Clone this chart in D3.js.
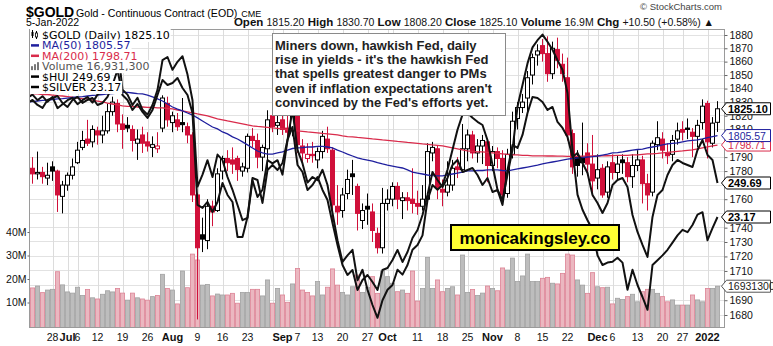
<!DOCTYPE html>
<html><head><meta charset="utf-8">
<script src="https://cdn.jsdelivr.net/npm/d3@7"></script>
<style>
body{margin:0;background:#fff;}
svg{display:block;font-family:"Liberation Sans",Arial,sans-serif;}
</style></head><body>
<svg id="c" width="773" height="346"></svg>
<script>
const dates = [
"2021-06-21","2021-06-22","2021-06-23","2021-06-24","2021-06-25",
"2021-06-28","2021-06-29","2021-06-30","2021-07-01","2021-07-02",
"2021-07-06","2021-07-07","2021-07-08","2021-07-09",
"2021-07-12","2021-07-13","2021-07-14","2021-07-15","2021-07-16",
"2021-07-19","2021-07-20","2021-07-21","2021-07-22","2021-07-23",
"2021-07-26","2021-07-27","2021-07-28","2021-07-29","2021-07-30",
"2021-08-02","2021-08-03","2021-08-04","2021-08-05","2021-08-06",
"2021-08-09","2021-08-10","2021-08-11","2021-08-12","2021-08-13",
"2021-08-16","2021-08-17","2021-08-18","2021-08-19","2021-08-20",
"2021-08-23","2021-08-24","2021-08-25","2021-08-26","2021-08-27",
"2021-08-30","2021-08-31","2021-09-01","2021-09-02","2021-09-03",
"2021-09-07","2021-09-08","2021-09-09","2021-09-10",
"2021-09-13","2021-09-14","2021-09-15","2021-09-16","2021-09-17",
"2021-09-20","2021-09-21","2021-09-22","2021-09-23","2021-09-24",
"2021-09-27","2021-09-28","2021-09-29","2021-09-30","2021-10-01",
"2021-10-04","2021-10-05","2021-10-06","2021-10-07","2021-10-08",
"2021-10-11","2021-10-12","2021-10-13","2021-10-14","2021-10-15",
"2021-10-18","2021-10-19","2021-10-20","2021-10-21","2021-10-22",
"2021-10-25","2021-10-26","2021-10-27","2021-10-28","2021-10-29",
"2021-11-01","2021-11-02","2021-11-03","2021-11-04","2021-11-05",
"2021-11-08","2021-11-09","2021-11-10","2021-11-11","2021-11-12",
"2021-11-15","2021-11-16","2021-11-17","2021-11-18","2021-11-19",
"2021-11-22","2021-11-23","2021-11-24","2021-11-26",
"2021-11-29","2021-11-30","2021-12-01","2021-12-02","2021-12-03",
"2021-12-06","2021-12-07","2021-12-08","2021-12-09","2021-12-10",
"2021-12-13","2021-12-14","2021-12-15","2021-12-16","2021-12-17",
"2021-12-20","2021-12-21","2021-12-22","2021-12-23",
"2021-12-27","2021-12-28","2021-12-29","2021-12-30","2021-12-31",
"2022-01-03","2022-01-04","2022-01-05"];

const openP = [1769,1782,1778,1779,1775, 1783,1780,1762,1770,1777, 1786,1797,1803,1801, 1809,1806,1809,1823,1829, 1814,1813,1810,1800,1806, 1801,1797,1796,1811,1829,
1815,1817,1815,1812,1806, 1763,1735,1731,1755,1752, 1780,1789,1788,1789,1780, 1782,1805,1802,1790,1796, 1820,1813,1817,1811,1809, 1826,1798,1789,1792,
1788,1794,1803,1795,1755, 1752,1764,1778,1769,1745, 1755,1751,1736,1726,1757, 1760,1769,1759,1761,1760, 1757,1755,1760,1793,1796, 1767,1765,1770,1783,1781,
1796,1806,1793,1798,1801, 1784,1794,1789,1764,1792, 1818,1826,1833,1850,1865, 1872,1866,1851,1869,1858, 1848,1807,1790,1790, 1793,1785,1775,1782,1765,
1786,1779,1788,1786,1776, 1784,1788,1771,1765,1799, 1803,1793,1792,1803, 1810,1811,1808,1805,1815, 1829,1800,1815.2];
const highP = [1788,1790,1794,1783,1786, 1787,1781,1773,1779,1789, 1801,1809,1817,1813, 1812,1820,1829,1834,1832, 1821,1819,1813,1810,1812, 1808,1805,1808,1835,1834,
1823,1822,1833,1815,1808, 1764,1747,1760,1759,1782, 1791,1795,1797,1791,1786, 1807,1811,1807,1799,1824, 1823,1820,1822,1820,1837, 1829,1803,1800,1801,
1797,1809,1812,1797,1770, 1768,1781,1788,1771,1757, 1764,1757,1740,1768,1767, 1772,1772,1765,1765,1782, 1766,1770,1800,1801,1798, 1774,1787,1788,1790,1814,
1810,1809,1803,1806,1803, 1798,1797,1795,1796,1823, 1830,1836,1853,1866,1873, 1877,1879,1875,1878,1866, 1863,1810,1795,1815, 1800,1806,1792,1785,1787,
1792,1791,1792,1790,1792, 1795,1791,1778,1802,1816, 1808,1800,1806,1815, 1816,1818,1811,1817,1832, 1831,1819,1830.7];
const lowP = [1765,1771,1774,1771,1770, 1773,1751,1750,1766,1774, 1785,1795,1798,1797, 1799,1800,1807,1820,1808, 1796,1808,1794,1788,1793, 1794,1790,1793,1808,1812,
1808,1809,1808,1800,1758, 1677,1723,1725,1741,1751, 1774,1780,1778,1773,1776, 1779,1797,1782,1780,1781, 1808,1806,1806,1803,1805, 1793,1784,1786,1786,
1782,1789,1793,1745,1742, 1747,1760,1763,1738,1739, 1742,1730,1722,1722,1752, 1755,1753,1746,1752,1750, 1749,1752,1757,1787,1760, 1755,1762,1766,1775,1780,
1787,1789,1786,1785,1772, 1780,1782,1758,1761,1789, 1810,1822,1820,1843,1857, 1860,1845,1847,1855,1845, 1802,1778,1776,1777, 1777,1762,1767,1761,1761,
1774,1774,1778,1772,1768, 1780,1757,1752,1762,1795, 1789,1785,1787,1799, 1802,1803,1790,1797,1810, 1789,1797,1808.2];
const closeP = [1782,1778,1779,1776,1777, 1780,1763,1770,1777,1783, 1795,1802,1800,1810, 1806,1809,1823,1830,1814, 1810,1811,1802,1803,1800, 1798,1799,1798,1833,1817,
1820,1812,1813.5,1806,1763, 1726,1732,1755,1751,1778, 1789,1786,1785,1781,1783, 1805,1802,1790,1797,1817, 1812,1815,1810,1808,1826, 1799,1793,1792,1791,
1794,1805,1796,1756,1751, 1763,1774,1776,1750,1752, 1753,1738,1726,1757,1760, 1769,1760,1761,1759,1757, 1755,1760,1794,1797,1768, 1765,1770,1782,1781,1796,
1806,1793,1798,1802,1784, 1794,1789,1763,1792,1816, 1826,1830,1848,1863,1868, 1866,1851,1870,1861,1851, 1806,1783,1784,1786, 1785,1773,1781,1763,1783,
1779,1785,1786,1776,1784, 1788,1771,1763,1800,1804, 1795,1791,1802,1809, 1808,1810,1805,1813,1827, 1801,1814.6,1825.1];
const prevClose = 1769;

const volumeM = [18.3,16.2,17.0,14.2,15.3, 15.6,23.1,17.5,14.5,14.0, 16.5,13.0,15.5,12.0, 11.5,13.5,15.0,14.5,16.0, 14.0,11.0,14.0,12.0,11.5, 11.0,12.5,13.0,22.0,16.0,
15.3,9.4,23.4,16.3,30.6, 28.1,17.4,17.7,12.8,13.6, 13.2,13.2,13.9,9.7,14.3, 14.3,15.6,15.6,12.8,19.6, 9.7,16.0,13.2,10.1,17.9, 24.5,15.3,14.3,12.8,
18.9,13.2,16.5,24.3,17.4, 14.3,13.2,16.7,21.7,14.3, 16.5,21.0,13.9,23.4,21.0, 18.2,14.6,15.3,13.9,23.4, 10.6,16.0,29.2,16.0,19.6, 14.6,16.0,16.7,13.2,30.2,
14.3,15.5,13.0,14.0,17.0, 16.0,15.0,24.7,23.8,28.9, 18.9,21.3,30.6,18.9,18.9, 20.3,20.7,18.2,17.9,22.4, 30.6,30.2,19.6,17.4, 13.9,22.7,16.7,16.3,16.5,
9.4,11.8,11.3,12.5,13.5, 10.3,14.6,15.6,15.6,13.9, 12.5,10.3,11.1,8.9, 8.9,8.9,13.2,11.1,10.3, 16.0,16.0,16.9313];

const ma50 = [1830.1,1830.4,1830.8,1831.2,1831.5, 1831.9,1832.3,1832.6,1833.0,1833.4, 1833.8,1834.1,1834.5,1834.9, 1835.2,1835.6,1836.0,1836.3,1836.7, 1837.1,1837.1,1836.7,1836.3,1836.0, 1835.2,1833.8,1832.3,1830.8,1828.6,
1826.4,1824.9,1823.5,1822.0,1820.5, 1818.4,1816.2,1814.0,1811.8,1810.4, 1808.2,1806.8,1804.6,1803.1,1801.0, 1798.8,1796.6,1794.4,1793.0,1792.2, 1792.2,1793.0,1793.7,1795.1,1796.2, 1796.6,1796.9,1797.3,1797.3,
1797.7,1797.7,1797.3,1796.6,1795.1, 1793.7,1792.2,1790.8,1789.4,1788.6, 1787.9,1787.2,1786.1,1785.1,1784.3, 1783.6,1782.9,1782.2,1780.8,1779.3, 1778.6,1777.9,1777.2,1776.8,1776.5, 1776.5,1777.2,1777.9,1778.6,1779.3,
1780.1,1780.1,1780.4,1780.4,1780.8, 1780.8,1780.8,1780.4,1780.1,1780.8, 1781.5,1782.2,1782.9,1783.6,1784.3, 1785.1,1785.8,1786.5,1787.2,1787.9, 1788.6,1789.0,1789.4,1789.7, 1790.1,1790.4,1790.8,1791.5,1792.2,
1793.0,1793.3,1793.7,1794.4,1795.1, 1795.5,1795.8,1796.6,1797.3,1798.0, 1798.8,1799.5,1799.9,1800.2, 1801.0,1801.7,1802.1,1802.4,1803.1, 1804.0,1804.8,1805.57];

const ma200 = [1836.3,1836.0,1836.0,1835.6,1835.6, 1835.2,1834.8,1834.5,1834.1,1833.7, 1833.0,1832.6,1832.3,1831.5, 1830.8,1830.1,1829.3,1828.6,1827.9, 1827.2,1826.8,1826.8,1826.4,1826.4, 1826.1,1826.1,1825.7,1825.7,1825.3,
1825.0,1824.2,1823.5,1822.8,1822.1, 1821.3,1820.6,1819.9,1818.8,1817.7, 1817.0,1816.2,1815.5,1814.8,1814.1, 1813.3,1812.6,1812.2,1811.9,1811.5, 1811.1,1810.8,1810.4,1809.7,1809.3, 1809.0,1808.6,1808.2,1807.9,
1807.5,1807.1,1806.8,1806.4,1806.0, 1805.3,1804.8,1804.6,1804.2,1803.9, 1803.5,1803.1,1802.8,1802.4,1802.1, 1801.7,1801.3,1801.0,1800.6,1800.3, 1799.9,1799.5,1799.2,1798.8,1798.5, 1798.1,1797.4,1796.7,1796.0,1795.2,
1794.5,1794.2,1793.8,1793.8,1793.4, 1793.1,1792.7,1792.4,1792.0,1791.6, 1791.6,1791.3,1791.3,1790.9,1790.9, 1790.9,1790.8,1790.8,1790.7,1790.7, 1790.6,1790.6,1790.6,1790.7, 1790.7,1790.8,1790.8,1790.9,1791.0,
1791.1,1791.2,1791.3,1791.3,1791.6, 1791.6,1792.0,1792.4,1792.4,1792.7, 1793.1,1793.4,1793.8,1794.2, 1794.5,1794.9,1795.2,1796.0,1796.7, 1797.4,1798.1,1798.71];

const hui = [281.7,282.9,280.9,279.7,282.9, 283.7,284.5,281.7,280.1,282.9, 284.1,281.7,282.9,283.7, 280.9,281.7,284.1,288.9,294.9, 284.9,282.9,278.9,281.3,278.1, 275.7,278.9,284.9,290.9,288.9,
289.7,291.7,287.7,284.9,277.7, 240.9,239.7,242.1,238.1,242.1, 249.7,244.9,242.1,228.1,228.1, 236.1,251.7,250.9,241.7,254.9, 256.9,254.9,257.7,266.9,272.1, 256.9,254.1,246.9,248.9,
252.1,246.9,242.9,233.7,224.9, 216.9,212.9,214.9,206.9,210.9, 212.9,210.1,206.9,214.9,215.7, 218.9,222.9,218.1,222.1,227.7, 230.9,236.9,244.9,254.1,250.9, 248.1,251.7,256.9,258.9,254.1,
254.9,255.7,252.9,248.9,251.7, 246.1,246.9,240.9,254.9,264.9, 263.7,268.9,277.7,284.1,283.7, 282.1,278.9,280.1,274.1,271.7, 268.1,260.1,261.7,257.7, 253.7,244.9,241.7,237.7,241.7,
248.9,250.9,251.7,248.1,236.9, 230.1,224.9,220.1,236.1,244.9, 246.9,252.9,256.9,258.9, 257.7,256.9,256.1,262.9,266.9, 260.9,258.9,249.69];

const silver = [24.66,24.70,24.63,24.68,24.61, 24.67,24.53,24.58,24.63,24.66, 24.58,24.63,24.67,24.60, 24.70,24.73,25.13,25.41,25.32, 24.76,24.70,24.57,24.66,24.51, 24.45,24.57,24.76,25.13,25.17,
25.01,25.11,25.18,24.95,24.63, 23.55,23.70,23.88,23.67,23.95, 23.88,23.67,23.51,23.32,23.13, 23.16,23.63,23.42,23.51,23.88, 23.84,23.88,23.70,24.13,24.51, 24.01,23.84,23.60,23.67,
23.63,23.76,23.57,23.22,22.88, 22.61,22.69,22.76,22.38,22.51, 22.26,22.07,21.91,22.13,22.26, 22.32,22.51,22.45,22.57,22.76, 22.82,22.94,23.38,23.57,23.51, 23.57,23.76,24.01,24.26,24.45,
24.47,24.41,24.36,24.32,24.13, 23.82,23.51,23.38,23.70,24.01, 24.55,24.82,25.09,25.29,25.38, 25.45,25.36,25.26,25.13,25.01, 24.72,24.01,23.45,23.26, 23.13,23.01,22.69,22.57,22.60,
22.61,22.66,22.60,22.26,22.51, 22.32,22.17,22.01,22.57,22.63, 22.69,22.76,22.85,22.94, 23.01,22.98,23.07,23.20,23.23, 22.88,23.03,23.17];

const priceTicks = [1680,1690,1700,1710,1720,1730,1740,1750,1760,1770,1780,1790,1800,1810,1820,1830,1840,1850,1860,1870,1880];
const volTicks = [10,20,30,40];
const tickDates = ["2021-06-28","2021-07-01","2021-07-06","2021-07-12","2021-07-19","2021-07-26","2021-08-02","2021-08-09","2021-08-16","2021-08-23","2021-09-01","2021-09-07","2021-09-13","2021-09-20","2021-09-27","2021-10-01","2021-10-11","2021-10-18","2021-10-25","2021-11-01","2021-11-08","2021-11-15","2021-11-22","2021-12-01","2021-12-06","2021-12-13","2021-12-20","2021-12-27","2022-01-03"];
const tickLabels = ["28","Jul","6","12","19","26","Aug","9","16","23","Sep","7","13","20","27","Oct","11","18","25","Nov","8","15","22","Dec","6","13","20","27","2022"];
const gridDates = ["2021-06-21","2021-06-28","2021-07-01","2021-07-06","2021-07-12","2021-07-19","2021-07-26","2021-08-02","2021-08-09","2021-08-16","2021-08-23","2021-08-30","2021-09-01","2021-09-07","2021-09-13","2021-09-20","2021-09-27","2021-10-01","2021-10-04","2021-10-11","2021-10-18","2021-10-25","2021-11-01","2021-11-08","2021-11-15","2021-11-22","2021-11-29","2021-12-01","2021-12-06","2021-12-13","2021-12-20","2021-12-27","2022-01-03"];
const noteLines = ["Miners down, hawkish Fed, daily","rise in yields - it's the hawkish Fed","that spells greatest danger to PMs","even if inflation expectations aren't","convinced by the Fed's efforts yet."];
const siteText = "monicakingsley.co";

const RED="#d0103a", NAVY="#1f1f9e", MA200C="#d92b4b";
const P={l:29,r:724,t:29,b:327};
const svg=d3.select("#c");
const x=d3.scaleBand().domain(dates).range([25,720]);
const cx=d=>x(d)+x.bandwidth()/2;
const y=d3.scaleLog().domain([1680,1880]).range([315,35]);
const yV=d3.scaleLinear().domain([0,40]).range([326,232]);
const yH=d3.scaleLinear().domain([192.09,311.29]).range([327,29]);
const yS=d3.scaleLinear().domain([21.795,25.52]).range([327,29]);

const days=dates.map((d,i)=>({d,o:openP[i],h:highP[i],l:lowP[i],c:closeP[i],v:volumeM[i],pc:i?closeP[i-1]:prevClose}));
const N=dates.length, last=days[N-1];

svg.append("defs").append("clipPath").attr("id","clip").append("rect")
  .attr("x",P.l).attr("y",P.t).attr("width",P.r-P.l).attr("height",P.b-P.t);
const g=svg.append("g").attr("clip-path","url(#clip)");

// grid
g.selectAll(".hg").data(priceTicks).join("line").attr("x1",P.l).attr("x2",P.r)
 .attr("y1",d=>y(d)).attr("y2",d=>y(d)).attr("stroke","#e2e2e2").attr("stroke-width",1).attr("shape-rendering","crispEdges");
g.selectAll(".vg").data(gridDates).join("line").attr("x1",d=>Math.round(cx(d))+0.5).attr("x2",d=>Math.round(cx(d))+0.5)
 .attr("y1",P.t).attr("y2",P.b).attr("stroke","#dcdcdc").attr("stroke-width",1);

// volume
g.selectAll(".vb").data(days).join("rect")
 .attr("x",d=>x(d.d)+0.4).attr("width",x.bandwidth()-0.8)
 .attr("y",d=>yV(d.v)).attr("height",d=>yV(0)-yV(d.v)+2)
 .attr("fill",d=>d.c<d.pc?"#ebb7c0":"#bdbdbd")
 .attr("stroke",d=>d.c<d.pc?"#dc8495":"#a2a2a2").attr("stroke-width",0.8);

// candles
const cg=g.append("g");
days.forEach(d=>{
  const col=d.c<d.pc?RED:"#000";
  const X=cx(d.d);
  cg.append("line").attr("x1",X).attr("x2",X).attr("y1",y(d.h)).attr("y2",y(d.l)).attr("stroke",col).attr("stroke-width",1);
  const top=y(Math.max(d.o,d.c)), bot=y(Math.min(d.o,d.c));
  cg.append("rect").attr("x",X-2).attr("width",4).attr("y",top).attr("height",Math.max(1,bot-top))
    .attr("fill",d.c<d.o?col:"#fff").attr("stroke",col).attr("stroke-width",1);
});

// moving averages
g.append("path").datum(ma200).attr("fill","none").attr("stroke",MA200C).attr("stroke-width",1.3)
 .attr("d",d3.line().x((v,i)=>cx(dates[i])).y(v=>y(v)));
g.append("path").datum(ma50).attr("fill","none").attr("stroke",NAVY).attr("stroke-width",1.3)
 .attr("d",d3.line().x((v,i)=>cx(dates[i])).y(v=>y(v)));

// overlays
g.append("path").datum(hui).attr("fill","none").attr("stroke","#111").attr("stroke-width",2).attr("stroke-linejoin","round")
 .attr("d",d3.line().x((v,i)=>cx(dates[i])).y(v=>yH(v)));
g.append("path").datum(silver).attr("fill","none").attr("stroke","#111").attr("stroke-width",2).attr("stroke-linejoin","round")
 .attr("d",d3.line().x((v,i)=>cx(dates[i])).y(v=>yS(v)));

// plot border
svg.append("rect").attr("x",P.l+0.5).attr("y",P.t+0.5).attr("width",P.r-P.l).attr("height",P.b-P.t)
 .attr("fill","none").attr("stroke","#9a9a9a");

// right callout positions (used to hide fully covered tick labels, as in the source)
const calloutYs=[yV(last.v),yS(silver[N-1]),yH(hui[N-1]),y(ma200[N-1]),y(ma50[N-1]),y(last.c)];

// axes
const ra=svg.append("g").attr("transform",`translate(${P.r+0.5},0)`)
 .call(d3.axisRight(y).tickValues(priceTicks).tickSize(3).tickPadding(2).tickFormat(d3.format("d")));
ra.select(".domain").remove();
ra.selectAll("line").attr("stroke","#666");
ra.selectAll("text").attr("font-size","10.5px").attr("fill","#111").attr("font-family","Liberation Sans, Arial")
  .attr("display",d=>calloutYs.some(c=>Math.abs(c-y(d))<4.5)?"none":null);
const la=svg.append("g").attr("transform",`translate(${P.l+0.5},0)`)
 .call(d3.axisLeft(yV).tickValues(volTicks).tickSize(2).tickPadding(1).tickFormat(d=>d+"M"));
la.select(".domain").remove();
la.selectAll("line").attr("stroke","#666");
la.selectAll("text").attr("font-size","10.5px").attr("fill","#111").attr("font-family","Liberation Sans, Arial");

svg.selectAll(".xl").data(tickDates).join("text")
 .attr("x",d=>cx(d)).attr("y",341).attr("text-anchor","middle")
 .attr("font-size",(d,i)=>/^\d{1,2}$/.test(tickLabels[i])?"10.5px":"11px")
 .attr("font-weight",(d,i)=>/^\d{1,2}$/.test(tickLabels[i])?"normal":"bold")
 .attr("fill","#111").text((d,i)=>tickLabels[i]);

// header
svg.append("text").attr("x",26).attr("y",17).attr("font-size","14px").attr("font-weight","bold").text("$GOLD");
svg.append("text").attr("x",76).attr("y",17).attr("font-size","10.6px").text("Gold - Continuous Contract (EOD)")
  .append("tspan").attr("font-size","9px").attr("dx",4).text("CME");
svg.append("text").attr("x",26).attr("y",26).attr("font-size","10.5px").text("5-Jan-2022");
svg.append("text").attr("x",722).attr("y",10).attr("text-anchor","end").attr("font-size","9.5px").attr("fill","#444").text("\u00A9 StockCharts.com");
const chg=last.c-last.pc;
const hdr=svg.append("text").attr("x",714).attr("y",26).attr("text-anchor","end").attr("font-size","10.5px").attr("fill","#111");
[["Open ",d3.format(".2f")(last.o)],[" High ",d3.format(".2f")(last.h)],[" Low ",d3.format(".2f")(last.l)],[" Close ",d3.format(".2f")(last.c)],[" Volume ",d3.format(".1f")(last.v)+"M"],[" Chg ",d3.format("+.2f")(chg)+" ("+d3.format("+.2f")(chg/last.pc*100)+"%) \u25B2"]]
.forEach(([k,v])=>{hdr.append("tspan").attr("font-weight","bold").attr("font-size","11.5px").text(k);hdr.append("tspan").text(" "+v);});

// legend
const LG=[
 {t:"$GOLD (Daily) "+d3.format(".2f")(last.c),c:"#000",icon:"candle"},
 {t:"MA(50) "+d3.format(".2f")(ma50[N-1]),c:NAVY,icon:"line",ic:NAVY},
 {t:"MA(200) "+d3.format(".2f")(ma200[N-1]),c:MA200C,icon:"line",ic:MA200C},
 {t:"Volume "+d3.format(",")(Math.round(last.v*1e6)),c:"#555",icon:"vol"},
 {t:"$HUI "+d3.format(".2f")(hui[N-1]),c:"#000",icon:"line",ic:"#000"},
 {t:"$SILVER "+d3.format(".2f")(silver[N-1]),c:"#000",icon:"line",ic:"#000"}];
LG.forEach((it,i)=>{
  const b=39+i*10.4;
  const gg=svg.append("g");
  const bg=gg.append("rect").attr("fill","#fff");
  const tx=gg.append("text").attr("x",42).attr("y",b).attr("font-family","DejaVu Sans, Verdana, sans-serif").attr("font-size","11px").attr("fill",it.c).text(it.t);
  const bb=tx.node().getBBox();
  bg.attr("x",30).attr("y",bb.y).attr("width",bb.x+bb.width-29).attr("height",bb.height);
  if(it.icon==="line") gg.append("line").attr("x1",31).attr("x2",39).attr("y1",b-4).attr("y2",b-4).attr("stroke",it.ic).attr("stroke-width",2.5);
  if(it.icon==="candle"){
    gg.append("line").attr("x1",32.5).attr("x2",32.5).attr("y1",b-9).attr("y2",b-1).attr("stroke","#000");
    gg.append("rect").attr("x",31.5).attr("y",b-7).attr("width",2).attr("height",4).attr("fill","#000");
    gg.append("line").attr("x1",36.5).attr("x2",36.5).attr("y1",b-8).attr("y2",b).attr("stroke","#000");
    gg.append("rect").attr("x",35.5).attr("y",b-6).attr("width",2).attr("height",4).attr("fill","#fff").attr("stroke","#000").attr("stroke-width",0.8);
  }
  if(it.icon==="vol"){
    [[31,4],[34,6],[37,8]].forEach(([xx,h])=>gg.append("rect").attr("x",xx).attr("y",b-h).attr("width",2).attr("height",h).attr("fill","#777"));
  }
});

// annotation
svg.append("rect").attr("x",272.5).attr("y",33.5).attr("width",233).attr("height",82).attr("fill","#fff").attr("stroke","#8a8a8a");
noteLines.forEach((t,i)=>svg.append("text").attr("x",275).attr("y",50+i*14.2).attr("font-size","13px").attr("font-weight","bold").attr("fill","#222").text(t));

svg.append("rect").attr("x",451).attr("y",225).attr("width",168).attr("height",25).attr("fill","#ffff33").attr("stroke","#000").attr("stroke-width",2);
svg.append("text").attr("x",535).attr("y",244).attr("text-anchor","middle").attr("font-size","17px").attr("font-weight","bold").attr("fill","#000").text(siteText);

// right callouts
function callout(yc,stroke,col,bold,label){
  const x0=P.r-2.5,x1=770.5,h=6;
  svg.append("path").attr("d",`M${x0},${yc}L${x0+5},${yc-h}L${x1},${yc-h}L${x1},${yc+h}L${x0+5},${yc+h}Z`)
    .attr("fill","#fff").attr("stroke",stroke).attr("stroke-width",1);
  svg.append("text").attr("x",P.r+4).attr("y",yc+4).attr("font-size",bold?"11px":"10.5px").attr("font-weight",bold?"bold":"normal").attr("fill",col).text(label);
}
callout(calloutYs[0],"#555","#222",false,d3.format("d")(Math.round(last.v*1e6)));
callout(calloutYs[1],"#000","#000",true,d3.format(".2f")(silver[N-1]));
callout(calloutYs[2],"#000","#000",true,d3.format(".2f")(hui[N-1]));
callout(calloutYs[3],MA200C,MA200C,false,d3.format(".2f")(ma200[N-1]));
callout(calloutYs[4],NAVY,NAVY,false,d3.format(".2f")(ma50[N-1]));
callout(calloutYs[5],"#000","#000",true,d3.format(".2f")(last.c));
</script>
</body></html>
